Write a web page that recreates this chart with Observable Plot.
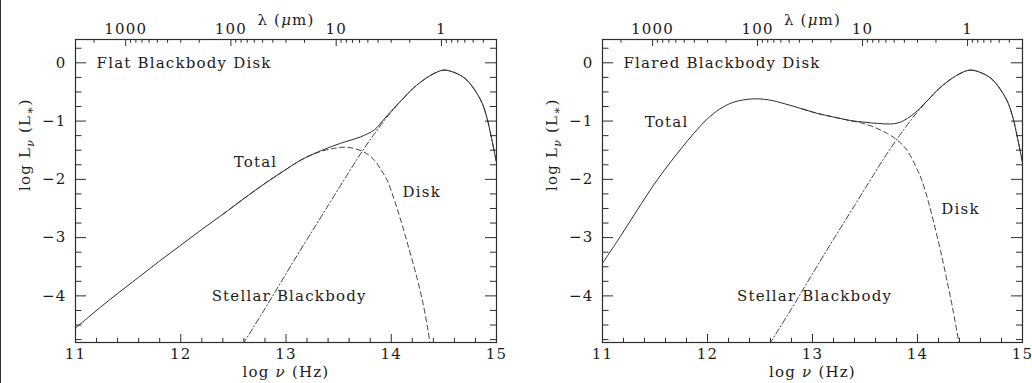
<!DOCTYPE html>
<html>
<head>
<meta charset="utf-8">
<script src="https://cdn.jsdelivr.net/npm/d3@7"></script>
<script src="https://cdn.jsdelivr.net/npm/@observablehq/plot@0.6"></script>
<style>
  html, body { margin: 0; padding: 0; background: #fff; }
  #wrap { position: relative; width: 1032px; height: 383px; display: flex; }
  #wrap svg { display: block; }
  #edge { position: absolute; left: 0; top: 0; width: 1px; height: 383px; background: #333; }
</style>
</head>
<body>
<div id="wrap"></div>
<script>
// ---------- data ----------
// Stellar blackbody (same star in both panels): log nu (Hz), log L_nu (L*)
const starNu = [12.59, 12.80, 13.00, 13.20, 13.40, 13.60, 13.72, 13.84, 13.96, 14.06, 14.12, 14.20, 14.28, 14.36, 14.44, 14.51, 14.63, 14.72, 14.85, 14.91, 14.95, 15.00];
const starL  = [-4.83, -4.22, -3.62, -3.03, -2.45, -1.87, -1.53, -1.22, -0.93, -0.72, -0.60, -0.45, -0.33, -0.23, -0.155, -0.125, -0.19, -0.30, -0.64, -0.95, -1.27, -1.71];

// Flat blackbody disk: total
const flatNu    = [11.00, 11.12, 11.24, 11.40, 11.60, 11.80, 12.00, 12.20, 12.40, 12.60, 12.80, 13.00, 13.14, 13.33, 13.52, 13.71, 13.84, 13.93, 14.00, 14.06, 14.12, 14.20, 14.28, 14.36, 14.44, 14.51, 14.63, 14.72, 14.85, 14.91, 14.95, 15.00];
const flatTotal = [-4.55, -4.37, -4.19, -3.96, -3.68, -3.40, -3.13, -2.86, -2.60, -2.33, -2.07, -1.83, -1.67, -1.51, -1.38, -1.27, -1.15, -0.97, -0.83, -0.71, -0.60, -0.45, -0.33, -0.23, -0.155, -0.125, -0.19, -0.30, -0.64, -0.95, -1.27, -1.71];
// Flat blackbody disk: disk component
const flatDiskNu = [12.40, 12.60, 12.80, 13.00, 13.14, 13.30, 13.45, 13.58, 13.74, 13.84, 13.90, 13.96, 14.03, 14.09, 14.17, 14.25, 14.31, 14.35, 14.38];
const flatDisk   = [-2.60, -2.33, -2.07, -1.83, -1.67, -1.54, -1.47, -1.45, -1.53, -1.67, -1.83, -2.01, -2.36, -2.70, -3.20, -3.73, -4.20, -4.60, -4.95];

// Flared blackbody disk: total
const flareNu    = [11.00, 11.17, 11.33, 11.49, 11.62, 11.75, 11.87, 12.00, 12.12, 12.25, 12.42, 12.58, 12.73, 12.90, 13.05, 13.20, 13.36, 13.50, 13.62, 13.74, 13.82, 13.87, 13.94, 14.00, 14.06, 14.12, 14.20, 14.28, 14.36, 14.44, 14.51, 14.63, 14.72, 14.85, 14.91, 14.95, 15.00];
const flareTotal = [-3.44, -2.98, -2.53, -2.09, -1.77, -1.47, -1.21, -0.96, -0.79, -0.675, -0.62, -0.635, -0.70, -0.79, -0.87, -0.93, -0.99, -1.02, -1.04, -1.05, -1.03, -0.99, -0.91, -0.82, -0.71, -0.60, -0.45, -0.33, -0.23, -0.155, -0.125, -0.19, -0.30, -0.64, -0.95, -1.27, -1.71];
// Flared blackbody disk: disk component
const flareDiskNu = [12.90, 13.05, 13.20, 13.36, 13.46, 13.58, 13.71, 13.81, 13.90, 14.00, 14.04, 14.10, 14.16, 14.22, 14.28, 14.34, 14.39, 14.41];
const flareDisk   = [-0.79, -0.87, -0.93, -0.995, -1.03, -1.10, -1.21, -1.33, -1.50, -1.84, -2.01, -2.36, -2.78, -3.23, -3.73, -4.26, -4.76, -4.98];

// Annotations (log nu, log L)
const flatLabelText  = ["Total", "Disk", "Stellar Blackbody"];
const flatLabelX     = [12.71, 14.29, 13.03];
const flatLabelY     = [-1.70, -2.22, -4.01];
const flareLabelText = ["Total", "Disk", "Stellar Blackbody"];
const flareLabelX    = [11.61, 14.41, 13.02];
const flareLabelY    = [-1.02, -2.51, -4.01];
const flatTitle  = "Flat Blackbody Disk";
const flareTitle = "Flared Blackbody Disk";
const titleX = 11.20, titleY = 0.0;

// Axes
const xMajor = [11, 12, 13, 14, 15];
const xMinor = [11.2, 11.4, 11.6, 11.8, 12.2, 12.4, 12.6, 12.8, 13.2, 13.4, 13.6, 13.8, 14.2, 14.4, 14.6, 14.8];
const yMajor = [0, -1, -2, -3, -4];
const yMinor = [0.25, -0.25, -0.5, -0.75, -1.25, -1.5, -1.75, -2.25, -2.5, -2.75, -3.25, -3.5, -3.75, -4.25, -4.5, -4.75];
const lambdaMajor = [1000, 100, 10, 1];
const lambdaMinor = [2000, 900, 800, 700, 600, 500, 400, 300, 200, 90, 80, 70, 60, 50, 40, 30, 20, 9, 8, 7, 6, 5, 4, 3, 2, 0.9, 0.8, 0.7, 0.6, 0.5, 0.4];
const LOG_C_UM = Math.log10(2.998e14); // c in micron/s
const lamToNu = (lam) => LOG_C_UM - Math.log10(lam);

const xLabel = "log ν (Hz)";
const topLabel = "λ (μm)";
const yLabel = "log Lν (L∗)";

// ---------- drawing ----------
const INK = "#2e2e2e";
const TXT = "#1c1c1c";
const FONT = "'DejaVu Serif', 'Liberation Serif', serif";
const X0 = 11, X1 = 15, Y0 = -4.8, Y1 = 0.4;

const rows = (xs, ys) => xs.map((x, i) => ({x, y: ys[i]}));
const labelRows = (t, xs, ys) => t.map((text, i) => ({text, x: xs[i], y: ys[i]}));
const fmtY = (d) => d === 0 ? "0" : (d < 0 ? "\u2212" + Math.abs(d) : String(d));

function panel({total, disk, labels, title, marginLeft, marginRight}) {
  const pxPerX = (516 - marginLeft - marginRight) / (X1 - X0);
  const pxPerY = (383 - 39 - 41) / (Y1 - Y0);
  const dx = (px) => px / pxPerX;
  const dy = (px) => px / pxPerY;
  return Plot.plot({
    width: 516, height: 383,
    marginLeft, marginRight, marginTop: 39, marginBottom: 41,
    x: {domain: [X0, X1]},
    y: {domain: [Y0, Y1]},
    style: {fontFamily: FONT, fontSize: "15px", letterSpacing: "1.2px", color: TXT, background: "#fff", overflow: "visible"},
    marks: [
      // tick labels via axes
      Plot.axisX(xMajor, {anchor: "bottom", tickSize: 0, tickPadding: 6, label: null, tickFormat: (d) => String(d), fontSize: 15}),
      Plot.axisX(lambdaMajor.map(lamToNu), {anchor: "top", tickSize: 0, tickPadding: 6, label: null, fontSize: 15,
        tickFormat: (d) => String(Math.round(Math.pow(10, LOG_C_UM - d)))}),
      Plot.axisY(yMajor, {anchor: "left", tickSize: 0, tickPadding: 9, label: null, tickFormat: fmtY, fontSize: 15}),
      // inward tick marks
      Plot.ruleX(xMajor, {y1: Y0, y2: Y0 + dy(8), stroke: INK, strokeWidth: 1}),
      Plot.ruleX(xMinor, {y1: Y0, y2: Y0 + dy(4.3), stroke: INK, strokeWidth: 1}),
      Plot.ruleX(lambdaMajor.map(lamToNu), {y1: Y1, y2: Y1 - dy(7), stroke: INK, strokeWidth: 1}),
      Plot.ruleX(lambdaMinor.map(lamToNu), {y1: Y1, y2: Y1 - dy(3.8), stroke: INK, strokeWidth: 1}),
      Plot.ruleY(yMajor, {x1: X0, x2: X0 + dx(11), stroke: INK, strokeWidth: 1}),
      Plot.ruleY(yMinor, {x1: X0, x2: X0 + dx(6.5), stroke: INK, strokeWidth: 1}),
      Plot.ruleY(yMajor, {x1: X1, x2: X1 - dx(11), stroke: INK, strokeWidth: 1}),
      Plot.ruleY(yMinor, {x1: X1, x2: X1 - dx(6), stroke: INK, strokeWidth: 1}),
      // curves
      Plot.line(rows(starNu, starL), {x: "x", y: "y", curve: "catmull-rom", stroke: INK, strokeWidth: 0.9, strokeDasharray: "6,2.5,1.2,2.5", clip: true}),
      Plot.line(disk, {x: "x", y: "y", curve: "catmull-rom", stroke: INK, strokeWidth: 0.9, strokeDasharray: "5,3.5", clip: true}),
      Plot.line(total, {x: "x", y: "y", curve: "catmull-rom", stroke: INK, strokeWidth: 1, clip: true}),
      // annotations
      Plot.text([title], {x: () => titleX, y: () => titleY, text: (d) => d, textAnchor: "start", fill: TXT, fontSize: 15}),
      Plot.text(labels, {x: "x", y: "y", text: "text", textAnchor: "middle", fill: TXT, fontSize: 15}),
      // axis titles
      Plot.text([xLabel], {frameAnchor: "bottom", dy: 34, text: (d) => d, fill: TXT, fontSize: 15}),
      Plot.text([topLabel], {frameAnchor: "top", dy: -25, text: (d) => d, fill: TXT, fontSize: 15}),
      Plot.text([yLabel], {frameAnchor: "left", dx: -50, rotate: -90, text: (d) => d, fill: TXT, fontSize: 15}),
      Plot.frame({stroke: INK, strokeWidth: 1.2})
    ]
  });
}

function richify(svg) {
  d3.select(svg).selectAll("text").each(function () {
    const t = this.textContent;
    const el = d3.select(this);
    if (t === yLabel) {
      el.text("");
      el.append("tspan").text("log L");
      el.append("tspan").attr("dy", "4").attr("font-size", "11px").attr("font-style", "italic").text("ν");
      el.append("tspan").attr("dy", "-4").text(" (L");
      el.append("tspan").attr("dy", "4").attr("font-size", "12px").text("∗");
      el.append("tspan").attr("dy", "-4").text(")");
    } else if (t === xLabel) {
      el.text("");
      el.append("tspan").text("log ");
      el.append("tspan").attr("font-style", "italic").text("ν");
      el.append("tspan").text(" (Hz)");
    } else if (t === topLabel) {
      el.text("");
      el.append("tspan").text("λ (");
      el.append("tspan").attr("font-style", "italic").text("μ");
      el.append("tspan").text("m)");
    }
  });
}

const wrap = document.getElementById("wrap");
const left = panel({
  total: rows(flatNu, flatTotal),
  disk: rows(flatDiskNu, flatDisk),
  labels: labelRows(flatLabelText, flatLabelX, flatLabelY),
  title: flatTitle,
  marginLeft: 75, marginRight: 20
});
const right = panel({
  total: rows(flareNu, flareTotal),
  disk: rows(flareDiskNu, flareDisk),
  labels: labelRows(flareLabelText, flareLabelX, flareLabelY),
  title: flareTitle,
  marginLeft: 86, marginRight: 10
});
richify(left); richify(right);
wrap.appendChild(left);
wrap.appendChild(right);
const edge = document.createElement("div");
edge.id = "edge";
wrap.appendChild(edge);
</script>
</body>
</html>
